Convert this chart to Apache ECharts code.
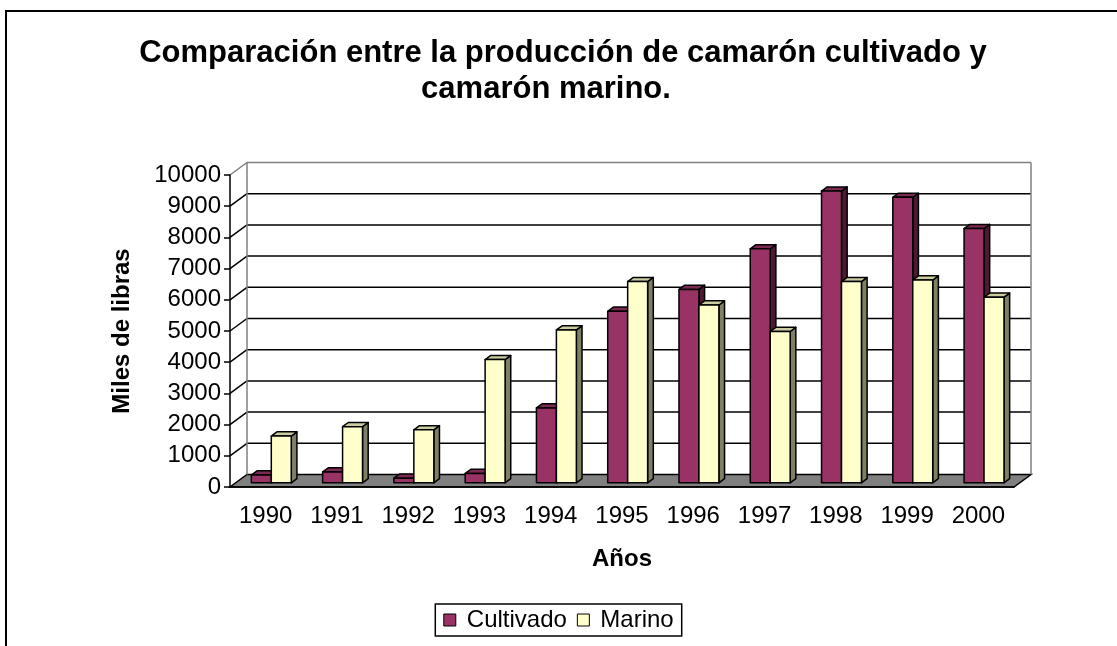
<!DOCTYPE html>
<html>
<head>
<meta charset="utf-8">
<title>Camarón cultivado y marino</title>
<script src="https://cdn.jsdelivr.net/npm/echarts@6/dist/echarts.min.js"></script>
<style>
  html, body { margin: 0; padding: 0; background: #fff; }
  #chart { width: 1117px; height: 646px; }
</style>
</head>
<body>
<div id="chart"></div>
<script>
// datos (miles de libras)
const years = ["1990", "1991", "1992", "1993", "1994", "1995", "1996", "1997", "1998", "1999", "2000"];
const cultivado = [250, 350, 150, 300, 2400, 5500, 6200, 7500, 9350, 9150, 8150];
const marino = [1500, 1800, 1700, 3950, 4900, 6450, 5700, 4850, 6450, 6500, 5950];
const yTicks = [0, 1000, 2000, 3000, 4000, 5000, 6000, 7000, 8000, 9000, 10000];

const FONT = '"Liberation Sans", Arial, sans-serif';
// desplazamiento de la pared del fondo (efecto 3D)
const DEPTH_X = 17;
const DEPTH_Y = -12.5;

(() => {
  const chart = echarts.init(document.getElementById("chart"));
  chart.setOption(buildOption());
})();

// pared del fondo, piso gris y líneas de división
function renderFrame(params, api) {
  const v = api.value(1);
  const sys = params.coordSys;
  const x0 = sys.x;
  const x1 = sys.x + sys.width;
  const y = api.coord([0, v])[1];
  const isTop = v === yTicks[yTicks.length - 1];
  const color = isTop ? "#808080" : "#000";
  const children = [];
  if (v === 0) {
    children.push({
      type: "polygon",
      shape: { points: [[x0, y], [x1, y], [x1 + DEPTH_X, y + DEPTH_Y], [x0 + DEPTH_X, y + DEPTH_Y]] },
      style: { fill: "#808080", stroke: "#000", lineWidth: 1.5 },
    });
  } else {
    children.push({
      type: "line",
      shape: { x1: x0 + DEPTH_X, y1: y + DEPTH_Y, x2: x1 + DEPTH_X, y2: y + DEPTH_Y },
      style: { stroke: color, lineWidth: 1.5 },
    });
    children.push({
      type: "line",
      shape: { x1: x0, y1: y, x2: x0 + DEPTH_X, y2: y + DEPTH_Y },
      style: { stroke: color, lineWidth: 1.5 },
    });
  }
  if (isTop) {
    const yb = api.coord([0, 0])[1];
    [x0, x1].forEach((x) => {
      children.push({
        type: "line",
        shape: { x1: x + DEPTH_X, y1: y + DEPTH_Y, x2: x + DEPTH_X, y2: yb + DEPTH_Y },
        style: { stroke: "#808080", lineWidth: 1.5 },
      });
    });
  }
  return { type: "group", children };
}

// barra 3D: cara frontal, superior y lateral
function makeBarRenderer(side, colors) {
  return function (params, api) {
    const idx = api.value(0);
    const top = api.coord([idx, api.value(1)]);
    const base = api.coord([idx, 0]);
    const bw = api.size([1, 0])[0] * 0.28;
    const dx = DEPTH_X / 3;
    const dy = DEPTH_Y / 3;
    const left = top[0] + dx + (side < 0 ? -bw : 0);
    const right = left + bw;
    const yt = top[1] + dy;
    const yb = base[1] + dy;
    const edge = { stroke: "#000", lineWidth: 1.5, lineJoin: "round" };
    return {
      type: "group",
      children: [
        {
          type: "polygon",
          shape: { points: [[right, yt], [right + dx, yt + dy], [right + dx, yb + dy], [right, yb]] },
          style: Object.assign({ fill: colors.side }, edge),
        },
        {
          type: "polygon",
          shape: { points: [[left, yt], [right, yt], [right + dx, yt + dy], [left + dx, yt + dy]] },
          style: Object.assign({ fill: colors.top }, edge),
        },
        {
          type: "rect",
          shape: { x: left, y: yt, width: bw, height: yb - yt },
          style: Object.assign({ fill: colors.front }, edge),
        },
      ],
    };
  };
}

function buildOption() {
  const textBase = { fontFamily: FONT, color: "#000" };
  const cultColors = { front: "#993366", top: "#7d2953", side: "#4d1a33" };
  const marColors = { front: "#ffffcc", top: "#cccca3", side: "#7f7f66" };
  return {
    backgroundColor: "#fff",
    animation: false,
    title: [
      {
        text: "Comparación entre la producción de camarón cultivado y",
        left: 563,
        top: 38,
        textAlign: "center",
        padding: 0,
        textStyle: Object.assign({ fontSize: 31, fontWeight: "bold" }, textBase),
      },
      {
        text: "camarón marino.",
        left: 546,
        top: 74,
        textAlign: "center",
        padding: 0,
        textStyle: Object.assign({ fontSize: 31, fontWeight: "bold" }, textBase),
      },
    ],
    graphic: [
      {
        type: "rect",
        shape: { x: 6, y: 11, width: 1300, height: 800 },
        style: { fill: null, stroke: "#000", lineWidth: 2 },
        silent: true,
      },
    ],
    legend: {
      data: ["Cultivado", "Marino"],
      left: "center",
      top: 604,
      icon: "rect",
      itemWidth: 12,
      itemHeight: 12,
      itemGap: 10,
      padding: [4, 8, 4, 8],
      borderColor: "#000",
      borderWidth: 1.5,
      itemStyle: { borderColor: "#000", borderWidth: 1 },
      textStyle: Object.assign({ fontSize: 24, padding: [0, 0, 0, 6] }, textBase),
    },
    grid: {
      left: 230,
      right: 103,
      top: 175,
      bottom: 159,
    },
    xAxis: {
      type: "category",
      data: years,
      z: 10,
      name: "Años",
      nameLocation: "middle",
      nameGap: 60,
      nameTextStyle: Object.assign({ fontSize: 24, fontWeight: "bold" }, textBase),
      axisLine: { lineStyle: { color: "#000", width: 1.5 } },
      axisTick: { length: 6, lineStyle: { color: "#000", width: 1.5 } },
      axisLabel: Object.assign({ fontSize: 24, margin: 17 }, textBase),
      splitLine: { show: false },
    },
    yAxis: {
      type: "value",
      min: 0,
      max: 10000,
      interval: 1000,
      z: 10,
      name: "Miles de libras",
      nameLocation: "middle",
      nameGap: 96,
      nameRotate: 90,
      nameTextStyle: Object.assign({ fontSize: 24, fontWeight: "bold" }, textBase),
      axisLine: { show: true, lineStyle: { color: "#000", width: 1.5 } },
      axisTick: { show: true, length: 6, lineStyle: { color: "#000", width: 1.5 } },
      axisLabel: Object.assign({ fontSize: 24, margin: 9, formatter: (v) => String(v) }, textBase),
      splitLine: { show: false },
    },
    series: [
      {
        name: "marco",
        type: "custom",
        silent: true,
        z: 1,
        renderItem: renderFrame,
        data: yTicks.map((v) => [0, v]),
      },
      {
        name: "Cultivado",
        type: "custom",
        z: 3,
        renderItem: makeBarRenderer(-1, cultColors),
        itemStyle: { color: cultColors.front },
        data: cultivado.map((v, i) => [i, v]),
      },
      {
        name: "Marino",
        type: "custom",
        z: 4,
        renderItem: makeBarRenderer(1, marColors),
        itemStyle: { color: marColors.front },
        data: marino.map((v, i) => [i, v]),
      },
    ],
  };
}
</script>
</body>
</html>
